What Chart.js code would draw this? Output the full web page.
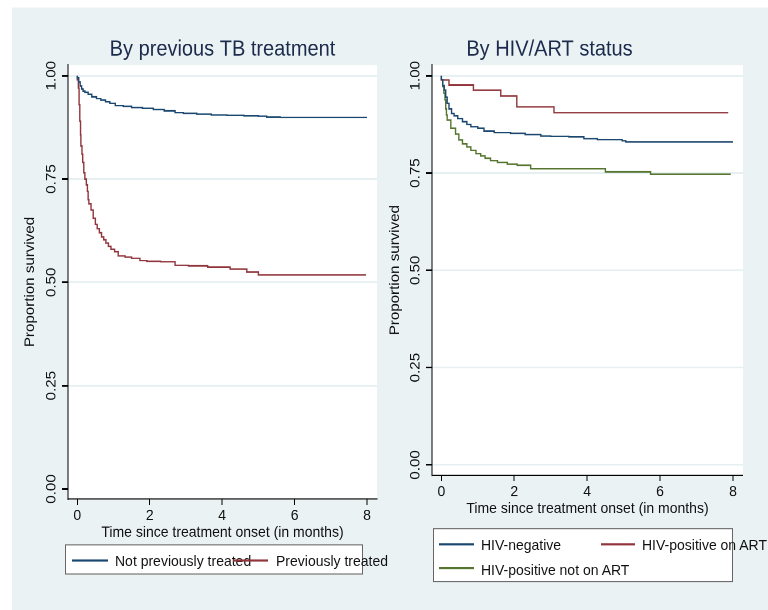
<!DOCTYPE html>
<html>
<head>
<meta charset="utf-8">
<script src="https://cdn.jsdelivr.net/npm/chart.js@4.4.1/dist/chart.umd.min.js"></script>
<style>
  html, body { margin: 0; padding: 0; background: #fff; }
  body { width: 768px; height: 610px; position: relative; overflow: hidden;
         font-family: "Liberation Sans", Arial, Helvetica, sans-serif; }
  /* the original export is slightly stretched vertically */
  #page { position: absolute; left: 0; top: 0; width: 768px; height: 565px;
          transform: scaleY(1.08); transform-origin: 0 0; }
  #bg { position: absolute; left: 12px; top: 7.4px; right: 0; bottom: 0; background: #eaf2f3; }
  canvas { position: absolute; top: 0; }
  .box { position: absolute; background: #fff; border: 1px solid #666; box-sizing: border-box; }
  .key { position: absolute; height: 2px; }
  .lbl { position: absolute; font-size: 14px; line-height: 16px; color: #111; white-space: nowrap; }
</style>
</head>
<body>
<div id="page">
<div id="bg"></div>
<canvas id="left" width="384" height="505" style="left:0px; width:384px; height:505px;"></canvas>
<canvas id="right" width="387" height="483" style="left:356px; width:387px; height:483px;"></canvas>

<!-- legend, left panel -->
<div class="box" style="left:65px; top:504px; width:298px; height:27.5px;"></div>
<div class="key" style="left:72px; top:517.8px; width:36px; background:#1a476f;"></div>
<div class="lbl" style="left:115px; top:511.2px;">Not previously treated</div>
<div class="key" style="left:233px; top:517.8px; width:35px; background:#90353b;"></div>
<div class="lbl" style="left:276px; top:511.2px;">Previously treated</div>

<!-- legend, right panel -->
<div class="box" style="left:433px; top:489.2px; width:300px; height:50px;"></div>
<div class="key" style="left:439px; top:503px; width:35px; background:#1a476f;"></div>
<div class="lbl" style="left:481px; top:496.4px;">HIV-negative</div>
<div class="key" style="left:601px; top:503px; width:34px; background:#90353b;"></div>
<div class="lbl" style="left:642px; top:496.4px;">HIV-positive on ART</div>
<div class="key" style="left:439px; top:524.6px; width:35px; background:#55752f;"></div>
<div class="lbl" style="left:481px; top:518.6px;">HIV-positive not on ART</div>
</div>

<script>
// Kaplan-Meier estimates (time in months, proportion surviving)
const notPrevMonths = [0, 0.04, 0.08, 0.12, 0.16, 0.21, 0.3, 0.4, 0.53, 0.65, 0.78, 0.9, 1.05, 1.27, 1.5, 1.8, 2.1, 2.4, 2.7, 2.93, 3.3, 3.7, 4.13, 4.6, 5.0, 5.23, 5.6, 5.92, 8.0];
const notPrevSurv   = [1.0, 0.995, 0.985, 0.975, 0.968, 0.963, 0.960, 0.955, 0.949, 0.945, 0.941, 0.937, 0.933, 0.928, 0.926, 0.923, 0.921, 0.918, 0.915, 0.911, 0.909, 0.907, 0.905, 0.904, 0.903, 0.902, 0.900, 0.899, 0.899];

const prevMonths = [0, 0.03, 0.05, 0.07, 0.09, 0.1, 0.13, 0.15, 0.18, 0.21, 0.25, 0.28, 0.3, 0.32, 0.38, 0.44, 0.5, 0.55, 0.61, 0.67, 0.73, 0.79, 0.86, 0.93, 1.03, 1.13, 1.32, 1.5, 1.73, 1.92, 2.3, 2.7, 3.07, 3.6, 4.22, 4.68, 5.0, 5.74, 7.97];
const prevSurv   = [1.0, 0.99, 0.97, 0.93, 0.89, 0.857, 0.83, 0.81, 0.79, 0.765, 0.75, 0.736, 0.72, 0.70, 0.69, 0.675, 0.655, 0.64, 0.63, 0.62, 0.61, 0.603, 0.595, 0.587, 0.58, 0.574, 0.564, 0.561, 0.558, 0.553, 0.551, 0.550, 0.541, 0.540, 0.537, 0.532, 0.525, 0.518, 0.518];

const hivNegMonths = [0, 0.04, 0.08, 0.12, 0.16, 0.21, 0.28, 0.35, 0.45, 0.58, 0.7, 0.81, 1.0, 1.17, 1.45, 1.9, 2.3, 2.73, 3.0, 3.5, 3.91, 4.28, 4.96, 5.06, 5.7, 8.0];
const hivNegSurv   = [1.0, 0.99, 0.975, 0.963, 0.945, 0.929, 0.915, 0.903, 0.897, 0.890, 0.882, 0.875, 0.869, 0.865, 0.858, 0.854, 0.852, 0.849, 0.845, 0.844, 0.843, 0.838, 0.836, 0.833, 0.830, 0.830];

const onArtMonths = [0, 0.21, 0.88, 1.63, 2.07, 3.09, 4.67, 7.87];
const onArtSurv   = [1.0, 0.989, 0.976, 0.963, 0.948, 0.920, 0.905, 0.905];

const noArtMonths = [0, 0.04, 0.07, 0.1, 0.12, 0.14, 0.16, 0.26, 0.39, 0.48, 0.58, 0.7, 0.81, 0.95, 1.08, 1.2, 1.35, 1.54, 1.81, 2.08, 2.45, 2.82, 4.5, 5.74, 5.92, 7.94];
const noArtSurv   = [1.0, 0.99, 0.972, 0.955, 0.938, 0.915, 0.899, 0.886, 0.865, 0.85, 0.835, 0.825, 0.817, 0.808, 0.800, 0.794, 0.788, 0.782, 0.777, 0.773, 0.770, 0.761, 0.761, 0.753, 0.747, 0.747];

const xTickValues = [0, 2, 4, 6, 8];
const yTickValues = [0, 0.25, 0.5, 0.75, 1];
const xTitle = 'Time since treatment onset (in months)';
const yTitle = 'Proportion survived';

const NAVY = '#1a476f', MAROON = '#90353b', GREEN = '#55752f';

Chart.defaults.font.family = '"Liberation Sans", Arial, Helvetica, sans-serif';
Chart.defaults.font.size = 14;
Chart.defaults.color = '#111';

// white plot region on the tinted page
const plotBg = {
  id: 'plotBg',
  beforeDraw(chart) {
    const { ctx, chartArea: a } = chart;
    ctx.save();
    ctx.fillStyle = '#fff';
    ctx.fillRect(a.left, a.top, a.right - a.left, a.bottom - a.top);
    ctx.restore();
  }
};

function kmSet(label, months, surv, color) {
  return {
    label,
    data: months.map((t, i) => ({ x: t, y: surv[i] })),
    borderColor: color,
    borderWidth: 1.4,
    pointRadius: 0,
    stepped: 'after',
    fill: false
  };
}

function panel(id, cfg) {
  return new Chart(document.getElementById(id), {
    type: 'line',
    data: { datasets: cfg.datasets },
    plugins: [plotBg],
    options: {
      responsive: false,
      animation: false,
      devicePixelRatio: 2,
      layout: { padding: { left: 0, right: cfg.padRight, top: 0, bottom: 0 } },
      plugins: {
        legend: { display: false },
        tooltip: { enabled: false },
        title: {
          display: true,
          text: cfg.title,
          fullSize: cfg.titleFull,
          color: '#1c2b4d',
          font: { size: 20, weight: 'normal' },
          padding: { top: 34, bottom: 2.2 }
        }
      },
      scales: {
        x: {
          type: 'linear',
          min: -0.256,
          max: 8.275,
          afterBuildTicks: s => { s.ticks = xTickValues.map(v => ({ value: v })); },
          afterFit: s => { s.height = 43; },
          grid: { drawOnChartArea: false, tickLength: 5.5, tickColor: '#000' },
          border: { color: '#000', width: 1 },
          ticks: { padding: 1.5, maxRotation: 0, color: '#111', callback: v => String(v) },
          title: { display: true, text: xTitle, color: '#111', padding: { top: 0, bottom: 3.4 } }
        },
        y: {
          type: 'linear',
          min: cfg.yMin,
          max: cfg.yMax,
          afterBuildTicks: s => { s.ticks = yTickValues.map(v => ({ value: v })); },
          afterFit: s => { s.width = cfg.yWidth; },
          grid: {
            color: c => (cfg.hideZeroGrid && c.tick && c.tick.value === 0) ? 'rgba(0,0,0,0)' : '#e6eff1',
            lineWidth: 1.5,
            tickLength: 6,
            tickColor: '#000'
          },
          border: { color: '#000', width: 1 },
          ticks: { minRotation: 90, maxRotation: 90, crossAlign: 'center', padding: -3.5, color: '#111',
                   callback: v => v.toFixed(2) },
          title: { display: true, text: yTitle, color: '#111', padding: { top: cfg.yTitlePad, bottom: 0 } }
        }
      }
    }
  });
}

panel('left', {
  title: 'By previous TB treatment',
  titleFull: false,
  padRight: 7,
  yWidth: 68,
  yTitlePad: 21.6,
  yMin: -0.0242,
  yMax: 1.0259,
  hideZeroGrid: true,
  datasets: [
    kmSet('Not previously treated', notPrevMonths, notPrevSurv, NAVY),
    kmSet('Previously treated', prevMonths, prevSurv, MAROON)
  ]
});

panel('right', {
  title: 'By HIV/ART status',
  titleFull: true,
  padRight: 0,
  yWidth: 76,
  yTitlePad: 30.6,
  yMin: -0.0265,
  yMax: 1.0275,
  hideZeroGrid: false,
  datasets: [
    kmSet('HIV-negative', hivNegMonths, hivNegSurv, NAVY),
    kmSet('HIV-positive on ART', onArtMonths, onArtSurv, MAROON),
    kmSet('HIV-positive not on ART', noArtMonths, noArtSurv, GREEN)
  ]
});
</script>
</body>
</html>
